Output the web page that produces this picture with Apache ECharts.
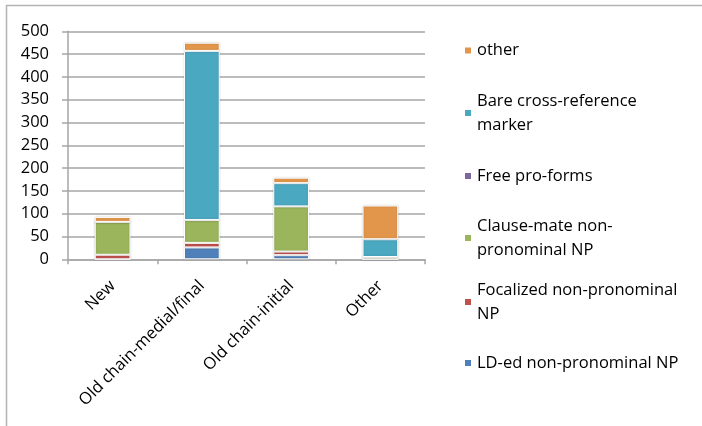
<!DOCTYPE html>
<html>
<head>
<meta charset="utf-8">
<script src="https://cdn.jsdelivr.net/npm/echarts@6/dist/echarts.min.js"></script>
<style>
html, body { margin: 0; padding: 0; background: #fff; }
#chart { width: 702px; height: 426px; }
</style>
</head>
<body>
<div id="chart"></div>
<script>
// Referent categories on the x axis
const categories = ['New', 'Old chain-medial/final', 'Old chain-initial', 'Other'];

// Counts per coding type, stacked bottom to top
const ldEd       = [0, 26, 9, 0];
const focalized  = [10, 10, 8, 0];
const clauseMate = [72, 50, 99, 5];
const freeForms  = [0, 0, 0, 0];
const bareMarker = [0, 371, 51, 39];
const otherVals  = [11, 18, 12, 74];

const yTicks = { min: 0, max: 500, interval: 50 };

const seriesNames = [
  'LD-ed non-pronominal NP',
  'Focalized non-pronominal NP',
  'Clause-mate non-pronominal NP',
  'Free pro-forms',
  'Bare cross-reference marker',
  'other'
];
const seriesData = [ldEd, focalized, clauseMate, freeForms, bareMarker, otherVals];
const colors = ['#4F80BA', '#C0524E', '#9AB55B', '#7F65A0', '#4BA8C1', '#E2964B'];

// Legend labels wrapped as two lines where the text is long
const wrapped = {
  'Bare cross-reference marker': 'Bare cross-reference\nmarker',
  'Clause-mate non-pronominal NP': 'Clause-mate non-\npronominal NP',
  'Focalized non-pronominal NP': 'Focalized non-pronominal\nNP'
};

const FONT = "'Open Sans', 'Liberation Sans', sans-serif";
const FS = 16.5;
const LH = 24;

// One legend block per entry, top to bottom
const legendOrder = [
  ['other', 38.6],
  ['Bare cross-reference marker', 77],
  ['Free pro-forms', 164],
  ['Clause-mate non-pronominal NP', 202],
  ['Focalized non-pronominal NP', 266],
  ['LD-ed non-pronominal NP', 351]
];
const legends = legendOrder.map(([name, top]) => {
  const twoLine = !!wrapped[name];
  return {
    data: [name],
    left: 463,
    top: top,
    padding: 0,
    itemWidth: 8,
    itemHeight: 8,
    itemGap: 0,
    icon: 'rect',
    selectedMode: false,
    formatter: n => wrapped[n] || n,
    textStyle: {
      fontFamily: FONT,
      fontSize: FS,
      color: '#000',
      lineHeight: LH,
      padding: twoLine ? [LH, 0, 0, 0] : 0
    }
  };
});

const chart = echarts.init(document.getElementById('chart'), null, { renderer: 'canvas' });
chart.setOption({
  animation: false,
  backgroundColor: '#fff',
  color: colors,
  graphic: [{
    type: 'rect',
    shape: { x: 6.5, y: 5.5, width: 800, height: 600 },
    style: { fill: 'none', stroke: '#b3b3b3', lineWidth: 1.5 },
    silent: true
  }],
  legend: legends,
  grid: { left: 68, right: 277, top: 31.3, bottom: 166.7, containLabel: false },
  xAxis: {
    type: 'category',
    data: categories,
    axisLine: { lineStyle: { color: '#a6a6a6', width: 1.5 } },
    axisTick: { show: true, length: 5, interval: 0, lineStyle: { color: '#a6a6a6', width: 1.5 } },
    axisLabel: {
      rotate: 45,
      interval: 0,
      margin: 24,
      fontFamily: FONT,
      fontSize: FS,
      color: '#000'
    }
  },
  yAxis: {
    type: 'value',
    min: yTicks.min,
    max: yTicks.max,
    interval: yTicks.interval,
    axisLine: { show: true, lineStyle: { color: '#a6a6a6', width: 1.5 } },
    axisTick: { show: true, length: 6, lineStyle: { color: '#a6a6a6', width: 1.5 } },
    splitLine: { lineStyle: { color: '#a6a6a6', width: 1.5 } },
    axisLabel: {
      margin: 19,
      fontFamily: FONT,
      fontSize: FS,
      color: '#000'
    }
  },
  series: seriesNames.map((name, i) => ({
    name: name,
    type: 'bar',
    stack: 'total',
    barWidth: '40%',
    data: seriesData[i],
    itemStyle: {
      color: colors[i],
      borderColor: '#ffffff',
      borderWidth: 1,
      shadowBlur: 2,
      shadowColor: 'rgba(0,0,0,0.18)'
    }
  }))
});
</script>
</body>
</html>
